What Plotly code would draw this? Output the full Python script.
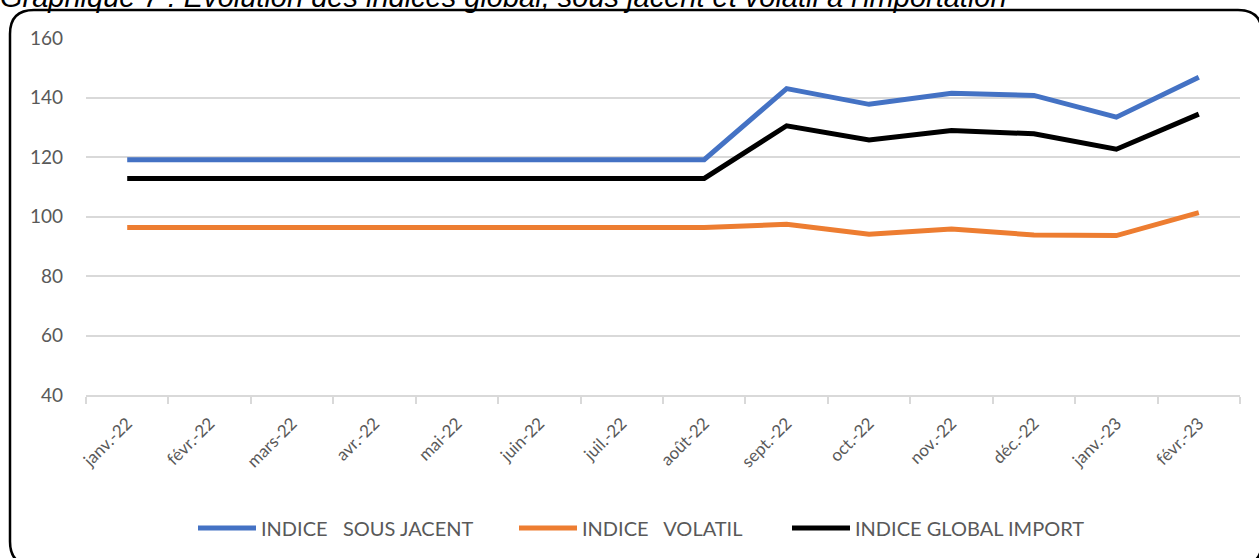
import plotly.graph_objects as go

months = ["janv.-22", "févr.-22", "mars-22", "avr.-22", "mai-22", "juin-22", "juil.-22",
          "août-22", "sept.-22", "oct.-22", "nov.-22", "déc.-22", "janv.-23", "févr.-23"]
sous_jacent = [119.1, 119.1, 119.1, 119.1, 119.1, 119.1, 119.1, 119.1,
               143.0, 137.7, 141.4, 140.7, 133.4, 146.8]
volatil = [96.3, 96.3, 96.3, 96.3, 96.3, 96.3, 96.3, 96.3,
           97.4, 94.0, 95.8, 93.8, 93.6, 101.3]
global_import = [112.8, 112.8, 112.8, 112.8, 112.8, 112.8, 112.8, 112.8,
                 130.5, 125.7, 128.9, 127.8, 122.6, 134.4]
series_names = ["INDICE   SOUS JACENT", "INDICE   VOLATIL", "INDICE GLOBAL IMPORT"]
series_colors = ["#4472C4", "#ED7D31", "#000000"]
y_ticks = [40, 60, 80, 100, 120, 140, 160]
title_text = "Graphique 7 : Evolution des indices global, sous jacent et volatil à l'importation"

W, H = 1259, 558
L, R, T, B = 86, 1240, 38, 396


def px(x):
    return (x - L) / (R - L)


def py(y):
    return (B - y) / (B - T)


fig = go.Figure()
legend_ids = ["legend", "legend2", "legend3"]
legend_starts = [198, 519, 792]
for name, vals, col, lid in zip(series_names, [sous_jacent, volatil, global_import],
                                series_colors, legend_ids):
    fig.add_trace(go.Scatter(x=months, y=vals, name=name, mode="lines", legend=lid,
                             line=dict(color=col, width=5)))

# rounded frame in pixel terms converted to paper coordinates
x0, y0, x1, y1, r = 10, 10, 1262, 567, 24
path = (f"M {px(x0 + r)},{py(y0)} L {px(x1 - r)},{py(y0)} "
        f"Q {px(x1)},{py(y0)} {px(x1)},{py(y0 + r)} "
        f"L {px(x1)},{py(y1 - r)} Q {px(x1)},{py(y1)} {px(x1 - r)},{py(y1)} "
        f"L {px(x0 + r)},{py(y1)} Q {px(x0)},{py(y1)} {px(x0)},{py(y1 - r)} "
        f"L {px(x0)},{py(y0 + r)} Q {px(x0)},{py(y0)} {px(x0 + r)},{py(y0)} Z")

legend_common = dict(orientation="h", xanchor="left", y=py(528), yanchor="middle",
                     font=dict(size=20, color="#595959"), itemwidth=58,
                     bgcolor="rgba(0,0,0,0)", borderwidth=0)
legends = {lid: dict(legend_common, x=px(s - 5)) for lid, s in zip(legend_ids, legend_starts)}

fig.update_layout(
    width=W, height=H,
    margin=dict(l=L, r=W - R, t=T, b=H - B, pad=0),
    paper_bgcolor="white", plot_bgcolor="white",
    font=dict(family="Lato, 'Open Sans', sans-serif", color="#595959", size=17),
    showlegend=True,
    shapes=[dict(type="path", path=path, xref="paper", yref="paper",
                 line=dict(color="black", width=2.5), layer="above")],
    annotations=[dict(text=title_text, xref="paper", yref="paper", x=px(-2), y=py(15),
                      xanchor="left", yanchor="bottom", showarrow=False,
                      font=dict(family="Liberation Sans, Arial, sans-serif", size=29,
                                color="black", style="italic"))],
    **legends,
)
fig.update_xaxes(type="category", tickson="boundaries", ticks="outside", ticklen=7,
                 tickcolor="#D9D9D9", tickwidth=1.5, showline=True, linecolor="#D9D9D9",
                 linewidth=1.5, showgrid=False, tickangle=-45, ticklabelstandoff=10,
                 tickfont=dict(size=17, color="#595959"), range=[-0.5, len(months) - 0.5])
fig.update_yaxes(range=[40, 160], tickvals=y_ticks, showgrid=True, gridcolor="#D9D9D9",
                 gridwidth=1.5, zeroline=False, showline=False, ticks="",
                 ticklabelstandoff=22, tickfont=dict(size=19, color="#595959"))

fig.write_html("out.html", config={"displayModeBar": False},
               post_script="document.body.style.margin='0px';")
